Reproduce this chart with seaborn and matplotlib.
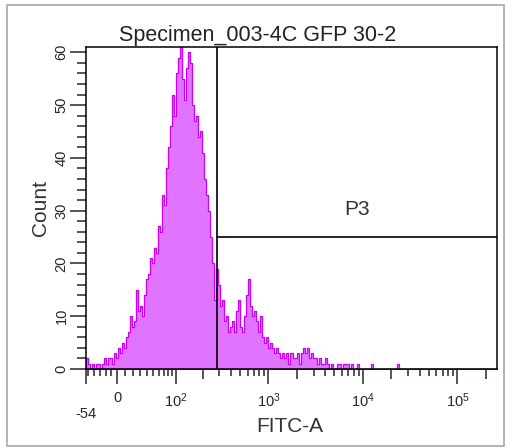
import numpy as np
import seaborn as sns
import matplotlib.pyplot as plt
from matplotlib.patches import Rectangle

# FITC-A event counts, one value per display bin (205 equal bins across the biex axis)
counts = [
    2, 1, 0, 1, 0, 1, 1, 0, 1, 2,
    1, 2, 2, 1, 3, 2, 4, 3, 5, 4,
    6, 7, 10, 8, 9, 15, 11, 12, 10, 14,
    17, 18, 21, 20, 23, 22, 27, 26, 33, 31,
    38, 42, 46, 52, 48, 56, 59, 61, 55, 51,
    57, 60, 58, 50, 47, 48, 44, 45, 41, 36,
    33, 30, 25, 20, 13, 19, 16, 12, 13, 9,
    10, 7, 8, 9, 7, 11, 13, 8, 7, 10,
    14, 17, 12, 10, 11, 9, 7, 10, 6, 5,
    6, 4, 5, 4, 3, 4, 3, 2, 3, 2,
    3, 1, 3, 2, 2, 3, 1, 3, 4, 3,
    4, 2, 3, 2, 2, 1, 2, 1, 1, 2,
    1, 0, 1, 0, 0, 1, 1, 0, 1, 1,
    1, 0, 1, 0, 0, 1, 0, 0, 0, 0,
    0, 0, 1, 0, 0, 0, 0, 0, 0, 0,
    0, 0, 0, 0, 0, 1, 0, 0, 0, 0,
    0, 0, 0, 0, 0, 0, 0, 0, 0, 0,
    0, 0, 0, 0, 0, 0, 0, 0, 0, 0,
    0, 0, 0, 0, 0, 0, 0, 0, 0, 0,
    0, 0, 0, 0, 0, 0, 0, 0, 0, 0,
    0, 0, 0, 0, 0,
]
x_min, x_max = -54, 262144
y_max = 61

# P3 gate
gate_left = 284
gate_count = 25
gate_name = 'P3'

major_x = [-54, 0, 100, 1000, 10000, 100000]
major_x_labels = ['\n-54', '0', '$10^2$', '$10^3$', '$10^4$', '$10^5$']
medium_x = [200, 2000, 20000, 200000]
minor_x = [-50, -40, -30, -20, -10,
           10, 20, 30, 40, 50, 60, 70, 80, 90,
           300, 400, 500, 600, 700, 800, 900,
           3000, 4000, 5000, 6000, 7000, 8000, 9000,
           30000, 40000, 50000, 60000, 70000, 80000, 90000]


# biexponential-ish display: asinh for positives, linear for negatives
C = 50.0
K = 0.70


def fwd(x):
    x = np.asarray(x, dtype=float)
    return np.where(x >= 0, np.arcsinh(np.clip(x, 0, None) / C), x / C * K)


def inv(y):
    y = np.asarray(y, dtype=float)
    return np.where(y >= 0, C * np.sinh(np.clip(y, 0, 12)), y * C / K)


sns.set_style('ticks')
plt.rcParams['font.family'] = ['Liberation Sans', 'DejaVu Sans']
plt.rcParams['mathtext.default'] = 'regular'

d_edges = np.linspace(fwd(x_min), fwd(x_max), len(counts) + 1)
edges = list(inv(d_edges))
centers = inv((d_edges[:-1] + d_edges[1:]) / 2)

fig = plt.figure(figsize=(5.07, 4.48), dpi=100)
ax = fig.add_axes([86 / 507, 79 / 448, 411 / 507, 322 / 448])

sns.histplot(x=centers, weights=counts, bins=edges, element='step', fill=True,
             color='#C800FF', alpha=0.55, linewidth=0.9, ax=ax)

ax.set_xscale('function', functions=(fwd, inv))
ax.set_xlim(x_min, x_max)
ax.set_ylim(0, y_max)

# gate
ax.plot([gate_left, gate_left], [0, y_max], color='black', lw=1.2)
ax.plot([gate_left, x_max], [gate_count, gate_count], color='black', lw=1.2)
ax.text(0.659, 0.494, gate_name, transform=ax.transAxes, ha='center', va='center',
        fontsize=15, color='#333333')

for s in ax.spines.values():
    s.set_color('black')
    s.set_linewidth(1.1)

ax.set_xticks(major_x + medium_x)
ax.set_xticklabels(major_x_labels + [''] * len(medium_x))
ax.set_xticks(minor_x, minor=True)
ax.tick_params(axis='x', which='major', length=11, width=1.1, pad=5, labelsize=10.5)
ax.tick_params(axis='x', which='minor', length=5, width=1.1)
for tick in ax.xaxis.get_major_ticks()[len(major_x):]:
    tick.tick1line.set_markersize(7.5)

ax.set_yticks(range(0, 61, 10))
ax.set_yticks(range(0, 61, 2), minor=True)
ax.tick_params(axis='y', which='major', length=11.5, width=1.1, pad=1, labelsize=10.5,
               labelrotation=90)
ax.tick_params(axis='y', which='minor', length=6.5, width=1.1)
for lab in ax.get_yticklabels():
    lab.set_va('center')

ax.set_xlabel('FITC-A', fontsize=15, color='#333333', va='center')
ax.xaxis.set_label_coords(0.496, -0.180)
ax.set_ylabel('Count', fontsize=15, color='#333333', va='center')
ax.yaxis.set_label_coords(-0.1095, 0.5)

fig.text(258 / 507, 1 - 41 / 448, 'Specimen_003-4C GFP 30-2', ha='center',
         va='baseline', fontsize=15.5, color='#222222')

fig.patches.append(Rectangle((7 / 507, 2 / 448), 497 / 507, 441 / 448,
                             transform=fig.transFigure, fill=False,
                             edgecolor='#a8a8a8', lw=1.2))

fig.savefig('out.png', dpi=100)
